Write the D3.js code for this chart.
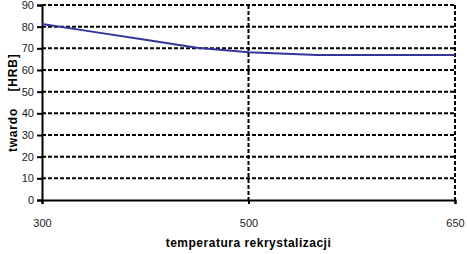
<!DOCTYPE html>
<html>
<head>
<meta charset="utf-8">
<script src="https://cdn.jsdelivr.net/npm/d3@7"></script>
<style>
  body { margin: 0; background: #fff; }
  svg { display: block; font-family: "Liberation Sans", Arial, sans-serif; }
</style>
</head>
<body>
<div id="chart"></div>
<script>
// data
const temps = [300, 350, 400, 450, 500, 550, 600, 650];
const hardness = [81.2, 77.6, 74.0, 70.3, 68.2, 66.9, 66.9, 66.9];
const xTicks = [300, 500, 650];
const yTicks = [0, 10, 20, 30, 40, 50, 60, 70, 80, 90];

const margin = { top: 5, right: 12, bottom: 54, left: 42 };
const width = 467 - margin.left - margin.right;
const height = 254 - margin.top - margin.bottom;

// Excel category axis: the three labels are evenly spaced
const x = d3.scaleLinear()
  .domain(xTicks)
  .range([0, width / 2, width]);
const y = d3.scaleLinear()
  .domain([0, 90])
  .range([height, 0]);

const svg = d3.select('#chart').append('svg')
  .attr('width', 467)
  .attr('height', 254)
  .append('g')
  .attr('transform', `translate(${margin.left},${margin.top})`);

// horizontal grid
svg.append('g')
  .selectAll('line')
  .data(yTicks.filter(d => d > 0))
  .enter().append('line')
  .attr('x1', 0)
  .attr('x2', width)
  .attr('y1', d => y(d))
  .attr('y2', d => y(d))
  .attr('stroke', '#000')
  .attr('stroke-width', 2)
  .attr('stroke-dasharray', '4,2');

// vertical grid
svg.append('g')
  .selectAll('line')
  .data(xTicks.slice(1))
  .enter().append('line')
  .attr('x1', d => x(d))
  .attr('x2', d => x(d))
  .attr('y1', 0)
  .attr('y2', height)
  .attr('stroke', '#000')
  .attr('stroke-width', 2)
  .attr('stroke-dasharray', '4,2');

// y axis
const yAxis = svg.append('g')
  .call(d3.axisLeft(y).tickValues(yTicks).tickSize(5).tickPadding(3));
yAxis.select('.domain').attr('stroke-width', 2);
yAxis.selectAll('.tick line').attr('stroke-width', 2);
yAxis.selectAll('text')
  .attr('fill', '#222')
  .style('font-size', '11px');

// x axis
const xAxis = svg.append('g')
  .attr('transform', `translate(0,${height})`)
  .call(d3.axisBottom(x).tickValues(xTicks).tickSize(4).tickPadding(15));
xAxis.select('.domain').attr('stroke-width', 2);
xAxis.selectAll('.tick line').attr('stroke-width', 2);
xAxis.selectAll('text')
  .attr('fill', '#222')
  .style('font-size', '11px');

// line
const line = d3.line()
  .x((d, i) => x(temps[i]))
  .y(d => y(d));
svg.append('path')
  .datum(hardness)
  .attr('fill', 'none')
  .attr('stroke', '#333399')
  .attr('stroke-width', 2)
  .attr('d', line);

// axis titles
svg.append('text')
  .attr('x', width / 2)
  .attr('y', height + 47)
  .attr('text-anchor', 'middle')
  .style('font-size', '12px')
  .style('font-weight', 'bold')
  .style('letter-spacing', '0.5px')
  .text('temperatura rekrystalizacji');

// y title: the missing "ść" glyphs leave a gap in the original
const yTitle = [
  { t: 'twardo', cy: 130 },
  { t: '[HRB]', cy: 72.5 },
];
svg.selectAll('.ytitle')
  .data(yTitle)
  .enter().append('text')
  .attr('class', 'ytitle')
  .attr('transform', d => `translate(${17 - margin.left},${d.cy - margin.top}) rotate(-90)`)
  .attr('text-anchor', 'middle')
  .style('font-size', '12px')
  .style('font-weight', 'bold')
  .style('letter-spacing', '0.8px')
  .text(d => d.t);
</script>
</body>
</html>
